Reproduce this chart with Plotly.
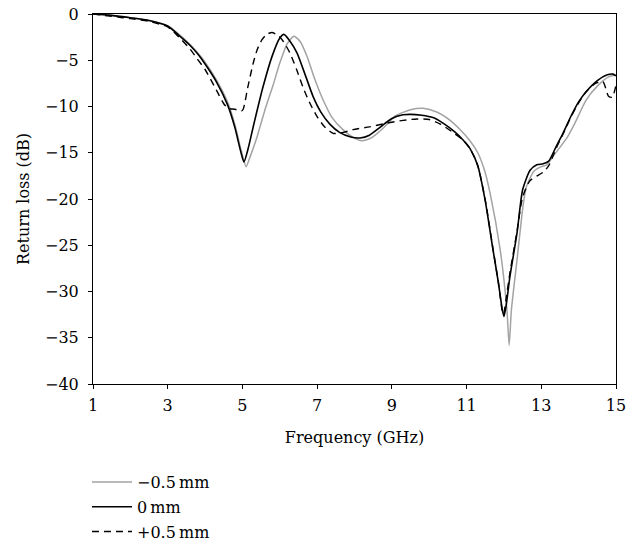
import plotly.graph_objects as go

# -0.5 mm (grey)
f_m05 = [1.0, 1.5, 2.0, 2.5, 3.0, 3.3, 3.6, 3.8, 4.0, 4.3, 4.6, 4.8, 4.95, 5.1, 5.2, 5.39, 5.6, 5.82,
         6.0, 6.2, 6.38, 6.55, 6.73, 6.95, 7.16, 7.4, 7.69, 7.95, 8.2, 8.45, 8.75, 9.1, 9.5, 9.84,
         10.2, 10.56, 10.85, 11.09, 11.3, 11.48, 11.63, 11.9, 12.08, 12.14, 12.2, 12.35, 12.52, 12.6,
         12.8, 13.0, 13.15, 13.35, 13.7, 13.9, 14.2, 14.5, 14.8, 15.0]
rl_m05 = [0.0, -0.15, -0.4, -0.7, -1.3, -2.2, -3.3, -4.2, -5.2, -7.1, -9.5, -12.0, -14.5, -16.5, -15.5,
          -13.3, -10.4, -7.7, -5.3, -3.2, -2.4, -3.0, -4.6, -7.2, -9.3, -11.2, -12.5, -13.3, -13.7,
          -13.4, -12.4, -11.0, -10.35, -10.2, -10.6, -11.5, -12.6, -13.7, -15.0, -16.9, -19.4, -25.5,
          -32.0, -35.8, -32.0, -26.6, -20.5, -18.7, -17.0, -16.5, -16.3, -15.2, -13.3, -11.8, -9.3,
          -7.8, -6.8, -6.6]

# 0 mm (black)
f_0 = [1.0, 1.5, 2.0, 2.5, 3.0, 3.3, 3.6, 3.8, 4.0, 4.3, 4.6, 4.8, 4.95, 5.04, 5.15, 5.3, 5.55, 5.8,
       6.0, 6.11, 6.25, 6.46, 6.7, 6.89, 7.1, 7.34, 7.6, 7.9, 8.15, 8.4, 8.7, 9.0, 9.3, 9.5, 9.8,
       10.1, 10.37, 10.7, 10.9, 11.1, 11.3, 11.5, 11.7, 11.85, 11.95, 12.0, 12.06, 12.16, 12.35,
       12.5, 12.7, 12.88, 13.05, 13.2, 13.4, 13.58, 13.8, 14.0, 14.2, 14.5, 14.75, 14.92, 15.0]
rl_0 = [0.0, -0.15, -0.4, -0.7, -1.3, -2.3, -3.4, -4.3, -5.4, -7.3, -9.8, -12.3, -14.8, -16.0, -14.6,
        -12.0, -7.9, -4.5, -2.6, -2.2, -2.8, -4.2, -6.8, -8.9, -10.6, -11.9, -12.8, -13.3, -13.4,
        -13.1, -12.2, -11.3, -10.9, -10.85, -10.95, -11.2, -11.8, -12.8, -13.6, -14.6, -16.4, -20.2,
        -25.3, -29.0, -31.8, -32.7, -31.5, -28.4, -23.7, -19.0, -16.9, -16.3, -16.2, -15.9, -14.3,
        -12.9, -11.0, -9.5, -8.4, -7.2, -6.6, -6.5, -6.7]

# +0.5 mm (dashed)
f_p05 = [1.0, 1.5, 2.0, 2.5, 3.0, 3.3, 3.6, 3.8, 4.0, 4.3, 4.5, 4.62, 4.8, 4.97, 5.02, 5.15, 5.29,
         5.4, 5.52, 5.65, 5.79, 5.95, 6.1, 6.27, 6.45, 6.62, 6.8, 7.0, 7.2, 7.43, 7.7, 7.96, 8.4,
         8.87, 9.3, 9.67, 10.0, 10.3, 10.6, 10.9, 11.1, 11.3, 11.5, 11.7, 11.85, 11.95, 11.99,
         12.05, 12.16, 12.35, 12.5, 12.7, 13.05, 13.2, 13.4, 13.58, 13.8, 14.0, 14.2, 14.45, 14.65,
         14.8, 14.9, 15.0]
rl_p05 = [0.0, -0.25, -0.5, -0.8, -1.4, -2.5, -3.8, -4.9, -6.0, -8.2, -9.7, -10.2, -10.3, -10.5,
          -10.3, -7.8, -5.3, -3.8, -2.8, -2.2, -2.0, -2.3, -3.0, -4.2, -6.0, -7.9, -9.6, -11.1,
          -12.2, -12.9, -12.8, -12.5, -12.2, -11.8, -11.5, -11.35, -11.4, -11.9, -12.7, -13.6,
          -14.6, -16.4, -20.1, -25.2, -29.0, -32.0, -32.5, -31.0, -28.0, -23.5, -19.8, -18.0,
          -17.1, -16.4, -14.5, -13.0, -11.1, -9.6, -8.4, -7.5, -7.3, -8.9, -9.0, -7.7]

series_names = ["\u22120.5\u2009mm", "0\u2009mm", "+0.5\u2009mm"]
x_ticks = [1, 3, 5, 7, 9, 11, 13, 15]

FONT = "DejaVu Serif"
FS = 16

fig = go.Figure()
fig.add_trace(go.Scatter(x=f_m05, y=rl_m05, mode="lines", name=series_names[0], legendgroup="a",
                         line=dict(color="#a3a3a3", width=1.5, shape="spline", smoothing=0.6)))
fig.add_trace(go.Scatter(x=f_0, y=rl_0, mode="lines", name=series_names[1], legendgroup="b",
                         line=dict(color="#000000", width=1.6, shape="spline", smoothing=0.6)))
fig.add_trace(go.Scatter(x=f_p05, y=rl_p05, mode="lines", name=series_names[2], legendgroup="c",
                         line=dict(color="#000000", width=1.4, dash="7px,5px", shape="spline",
                                   smoothing=0.6)))

axis_common = dict(showline=True, linecolor="#000000", linewidth=1, mirror=True, showgrid=False,
                   zeroline=False, ticks="outside", ticklen=4, tickcolor="#000000",
                   automargin=False, ticklabeloverflow="allow",
                   tickfont=dict(family=FONT, size=FS, color="#000000"))

fig.update_xaxes(range=[1, 15], tickvals=x_ticks, ticklabelstandoff=3,
                 title=dict(text="Frequency (GHz)", font=dict(family=FONT, size=FS, color="#000000"),
                            standoff=17),
                 **axis_common)
fig.update_yaxes(range=[-40, 0], dtick=5, ticklabelstandoff=6,
                 title=dict(text="Return loss (dB)", font=dict(family=FONT, size=FS, color="#000000"),
                            standoff=11),
                 **axis_common)

fig.update_layout(
    template="none",
    width=626, height=546,
    margin=dict(l=93, r=10, t=14, b=162, autoexpand=False),
    paper_bgcolor="white", plot_bgcolor="white",
    font=dict(family=FONT, size=FS, color="#000000"),
    showlegend=True,
    legend=dict(x=-0.0115, xanchor="left", y=-0.219, yanchor="top", orientation="v",
                traceorder="grouped", tracegroupgap=1, itemwidth=40, bgcolor="rgba(0,0,0,0)",
                borderwidth=0,
                font=dict(family=FONT, size=FS, color="#000000")),
)

fig.write_html("out.html",
               config={"displayModeBar": False},
               post_script="document.body.style.margin='0';document.body.style.overflow='hidden';")
